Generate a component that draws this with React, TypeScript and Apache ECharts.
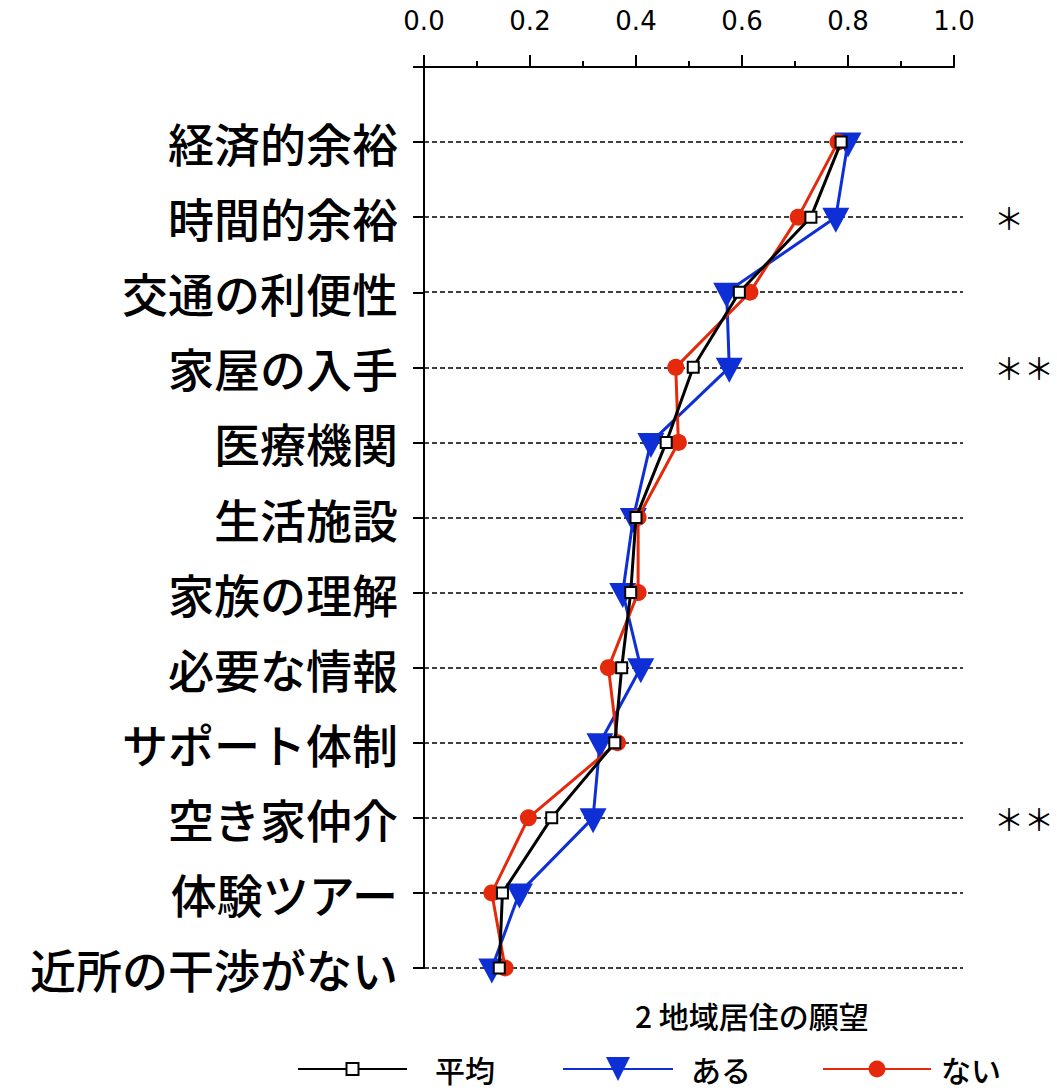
import React, { useEffect, useRef } from "react";
import * as echarts from "echarts";

// Items rated, top to bottom
const items = [
  "経済的余裕",
  "時間的余裕",
  "交通の利便性",
  "家屋の入手",
  "医療機関",
  "生活施設",
  "家族の理解",
  "必要な情報",
  "サポート体制",
  "空き家仲介",
  "体験ツアー",
  "近所の干渉がない",
];

// Share of respondents per group
const meanValues = [0.787, 0.73, 0.595, 0.508, 0.457, 0.4, 0.39, 0.373, 0.36, 0.241, 0.148, 0.142];
const yesValues = [0.8, 0.777, 0.571, 0.576, 0.428, 0.395, 0.375, 0.409, 0.332, 0.319, 0.18, 0.128];
const noValues = [0.781, 0.706, 0.615, 0.475, 0.48, 0.404, 0.404, 0.348, 0.365, 0.197, 0.128, 0.153];

// Significance marks per item
const significance = ["", "＊", "", "＊＊", "", "", "", "", "", "＊＊", "", ""];

const seriesNames = ["平均", "ある", "ない"];
const axisTitle = "2 地域居住の願望";

const CJK = '"Noto Sans CJK JP", "Noto Sans", sans-serif';
const BLUE = "#0f2fd6";
const RED = "#e5290c";

export default function App() {
  const ref = useRef<HTMLDivElement>(null);

  useEffect(() => {
    document.body.style.margin = "0";
    if (!ref.current) return;
    const chart = echarts.init(ref.current, undefined, { renderer: "svg" });

    const gridTop = 67;
    const gridHeight = 901;
    const rowH = gridHeight / items.length;

    const toPoints = (vals: number[]) => vals.map((v, i) => [v, i + 1]);

    const legendText = {
      fontSize: 30,
      lineHeight: 32,
      fontWeight: 500,
      color: "#000",
      fontFamily: CJK,
    };
    const legendBase = {
      top: 1053,
      padding: 0,
      selectedMode: false,
      lineStyle: { width: 2 },
    };

    chart.setOption({
      animation: false,
      backgroundColor: "#fff",
      title: {
        text: axisTitle,
        left: 630,
        top: 995,
        textStyle: { fontSize: 30, fontWeight: 500, color: "#000", fontFamily: CJK },
      },
      grid: [
        { left: 424, top: gridTop, width: 530, height: gridHeight },
        { left: 424, top: gridTop + rowH, width: 539, height: gridHeight - rowH },
      ],
      xAxis: [
        {
          gridIndex: 0,
          type: "value",
          position: "top",
          min: 0,
          max: 1,
          interval: 0.2,
          axisLine: { show: true, lineStyle: { color: "#000", width: 2 } },
          axisTick: { show: true, length: 12, lineStyle: { color: "#000", width: 2 } },
          minorTick: { show: true, splitNumber: 2, length: 6, lineStyle: { color: "#000", width: 2 } },
          splitLine: { show: false },
          axisLabel: {
            margin: 33,
            fontSize: 26,
            color: "#000",
            fontFamily: '"DejaVu Sans", sans-serif',
            formatter: (v: number) => v.toFixed(1),
          },
        },
        { gridIndex: 1, type: "value", min: 0, max: 1, show: false },
      ],
      yAxis: [
        {
          gridIndex: 0,
          type: "value",
          inverse: true,
          min: 0,
          max: items.length,
          interval: 1,
          axisLine: { show: true, lineStyle: { color: "#000", width: 2 } },
          axisTick: { show: true, length: 11, lineStyle: { color: "#000", width: 2 } },
          splitLine: { show: false },
          axisLabel: {
            margin: 26,
            fontSize: 46,
            fontWeight: 500,
            color: "#000",
            fontFamily: CJK,
            formatter: (v: number) => items[v - 1] ?? "",
          },
        },
        {
          gridIndex: 1,
          type: "value",
          inverse: true,
          position: "right",
          min: 1,
          max: items.length,
          interval: 1,
          axisLine: { show: false },
          axisTick: { show: false },
          splitLine: { show: true, lineStyle: { color: "#000", width: 1.5, type: [5, 3] } },
          axisLabel: {
            margin: 31,
            fontSize: 30,
            color: "#000",
            fontFamily: CJK,
            formatter: (v: number) => significance[v - 1] ?? "",
          },
        },
      ],
      legend: [
        {
          ...legendBase,
          data: [seriesNames[0]],
          left: 297,
          itemWidth: 109,
          itemHeight: 15,
          textStyle: { ...legendText, padding: [0, 0, 0, 23] },
        },
        {
          ...legendBase,
          data: [seriesNames[1]],
          left: 562,
          itemWidth: 110,
          itemHeight: 30,
          textStyle: { ...legendText, padding: [0, 0, 0, 13] },
        },
        {
          ...legendBase,
          data: [seriesNames[2]],
          left: 822,
          itemWidth: 108,
          itemHeight: 21,
          textStyle: { ...legendText, padding: [0, 0, 0, 5] },
        },
      ],
      series: [
        {
          name: seriesNames[1],
          type: "line",
          xAxisIndex: 0,
          yAxisIndex: 0,
          data: toPoints(yesValues),
          symbol: "triangle",
          symbolRotate: 180,
          symbolSize: [27, 25],
          symbolOffset: [0, 3],
          lineStyle: { color: BLUE, width: 3 },
          itemStyle: { color: BLUE },
          z: 2,
        },
        {
          name: seriesNames[2],
          type: "line",
          xAxisIndex: 0,
          yAxisIndex: 0,
          data: toPoints(noValues),
          symbol: "circle",
          symbolSize: 17,
          lineStyle: { color: RED, width: 3 },
          itemStyle: { color: RED },
          z: 3,
        },
        {
          name: seriesNames[0],
          type: "line",
          xAxisIndex: 0,
          yAxisIndex: 0,
          data: toPoints(meanValues),
          symbol: "rect",
          symbolSize: 11,
          lineStyle: { color: "#000", width: 3 },
          itemStyle: { color: "#fff", borderColor: "#000", borderWidth: 2 },
          z: 4,
        },
      ],
    });

    return () => chart.dispose();
  }, []);

  return <div ref={ref} style={{ width: 1057, height: 1091 }} />;
}
